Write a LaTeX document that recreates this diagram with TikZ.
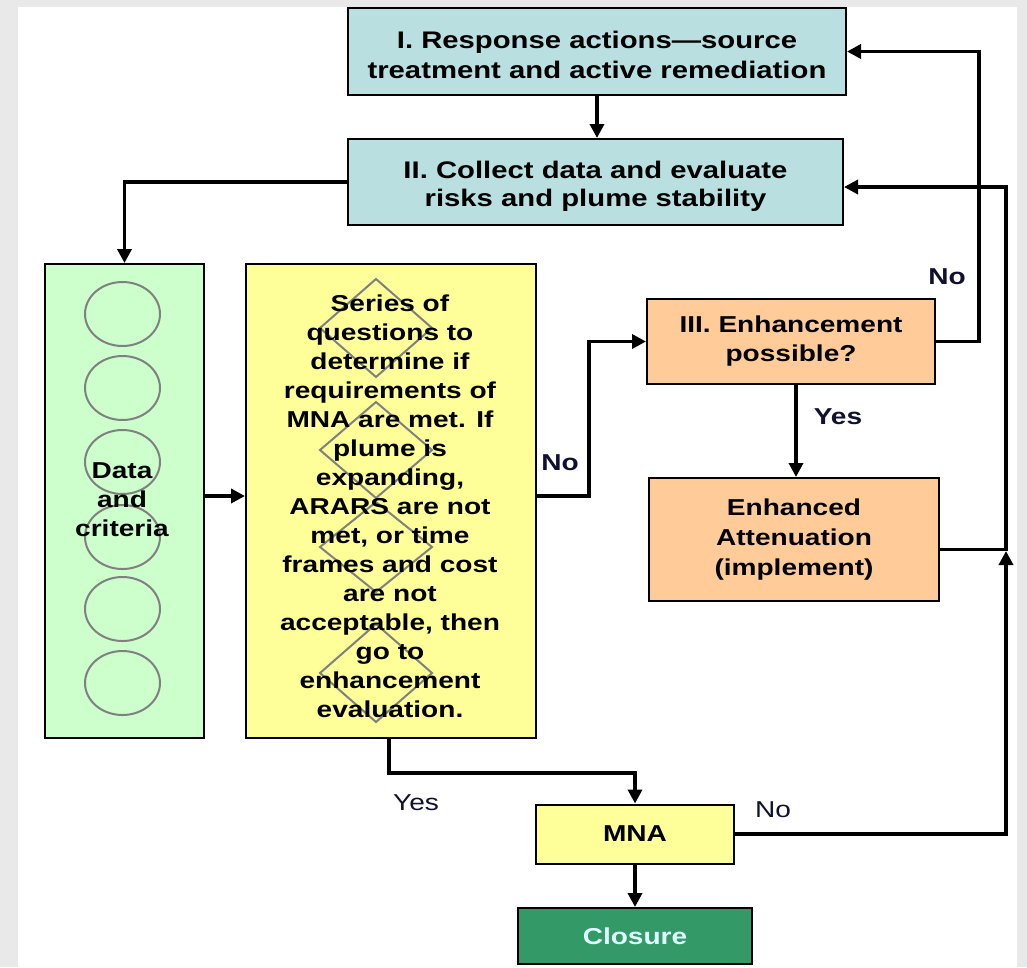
\documentclass[tikz,border=0pt]{standalone}
\usepackage{fontspec}
\setmainfont[FakeStretch=1.22]{Liberation Sans}
\usetikzlibrary{arrows.meta}
\definecolor{bggray}{HTML}{E9E9E9}
\definecolor{tealfill}{HTML}{B9DFE0}
\definecolor{greenfill}{HTML}{CCFFCC}
\definecolor{yellowfill}{HTML}{FFFF99}
\definecolor{orangefill}{HTML}{FFCC99}
\definecolor{closurefill}{HTML}{339966}
\definecolor{closuretext}{HTML}{E0FFFF}
\definecolor{decogray}{HTML}{808080}
\definecolor{lblcol}{HTML}{101030}
\begin{document}
\begin{tikzpicture}[x=1pt,y=-1pt,
  box/.style={draw=black, line width=2pt, inner sep=0pt, align=center},
  conn/.style={line width=3.5pt, -{Triangle[length=14pt,width=14pt]}},
  deco/.style={draw=decogray, line width=2pt},
  txt/.style={align=center, inner sep=0pt, font=\fontsize{23}{29}\selectfont\bfseries},
  lbl/.style={text=lblcol, font=\fontsize{23}{26}\selectfont\bfseries},
  lblr/.style={text=lblcol, font=\fontsize{23}{26}\selectfont}]
\useasboundingbox (0,0) rectangle (1027,967);
\fill[bggray] (0,0) rectangle (1027,967);
\fill[white] (18,7) rectangle (1017,967);

% top boxes
\node[box, fill=tealfill, minimum width=498pt, minimum height=87pt] (resp) at (597,51.5) {};
\node[align=center, inner sep=0pt, font=\fontsize{24}{30}\selectfont\bfseries] (resptxt) at (597,54.5)
  {I. Response actions—source\\treatment and active remediation};
\node[box, fill=tealfill, minimum width=495pt, minimum height=86pt] (collect) at (595.5,182) {};
\node[align=center, inner sep=0pt, font=\fontsize{24}{28}\selectfont\bfseries] (collecttxt) at (595.5,186)
  {II. Collect data and evaluate\\risks and plume stability};

% data box
\node[box, fill=greenfill, minimum width=159pt, minimum height=474pt] (data) at (124.5,501) {};
\foreach \cy in {314,388,462,537,609,683}
  \draw[deco] (122.5,\cy) ellipse [x radius=37.5pt, y radius=32pt];
\node[txt] (datatxt) at (122,500) {Data\\and\\criteria};

% series box
\node[box, fill=yellowfill, minimum width=290pt, minimum height=474pt] (series) at (391,501) {};
\foreach \cy/\h in {328/49,450/48,547/45,673/49}
  \draw[deco] (376,\cy-\h) -- (432,\cy) -- (376,\cy+\h) -- (320,\cy) -- cycle;
\node[txt] (seriestxt) at (390,506)
  {Series of\\questions to\\determine if\\requirements of\\MNA are met. If\\plume is\\expanding,\\ARARS are not\\met, or time\\frames and cost\\are not\\acceptable, then\\go to\\enhancement\\evaluation.};

% right boxes
\node[box, fill=orangefill, minimum width=288pt, minimum height=85pt,
  font=\fontsize{23}{29}\selectfont\bfseries] (enh) at (791,341.5)
  {III. Enhancement\\possible?};
\node[box, fill=orangefill, minimum width=290pt, minimum height=123pt,
  font=\fontsize{23}{30}\selectfont\bfseries] (ea) at (794,539.5)
  {Enhanced\\Attenuation\\(implement)};
\node[box, fill=yellowfill, minimum width=198pt, minimum height=59pt,
  font=\fontsize{23}{26}\selectfont\bfseries] (mna) at (635,834) {MNA};
\node[box, fill=closurefill, text=closuretext, minimum width=234pt, minimum height=56pt,
  font=\fontsize{23}{26}\selectfont\bfseries] (closure) at (635,936) {Closure};

% connectors
\coordinate (bendA) at (589,496);
\coordinate (bendB) at (979,0);
\coordinate (bendC) at (1006,0);
\coordinate (join) at (1006,551);
\coordinate (bendD) at (389,773);
\coordinate (yesx) at (796,0);
\coordinate (collectIn) at ([yshift=-5pt]collect.east);
\coordinate (eaOut) at ([yshift=-10pt]ea.east);
\coordinate (dataOut) at ([yshift=5pt]data.east);

\draw[conn] (resp.south) -- (resp.south |- collect.north);
\draw[conn] (collect.west) -| (data.north);
\draw[conn] (dataOut) -- (dataOut -| series.west);
\draw[conn] (series.east |- bendA) -- (bendA) |- (enh.west);
\draw[conn] (enh.east) -- (enh.east -| bendB) -- (bendB |- resp.east) -- (resp.east);
\draw[conn] (enh.south -| yesx) -- (ea.north -| yesx);
\draw[conn] (eaOut) -- (eaOut -| bendC) -- (bendC |- collectIn) -- (collectIn);
\draw[conn] (mna.east) -- (mna.east -| join) -- (join);
\draw[conn] (series.south -| bendD) -- (bendD) -| (mna.north);
\draw[conn] (mna.south) -- (closure.north);

% labels
\node[lbl] (noTop) at (947,277) {No};
\node[lbl] (yesEnh) at (838,417) {Yes};
\node[lbl] (noLeft) at (560,463) {No};
\node[lblr] (yesBot) at (416,803) {Yes};
\node[lblr] (noBot) at (773,810) {No};
\end{tikzpicture}
\end{document}
